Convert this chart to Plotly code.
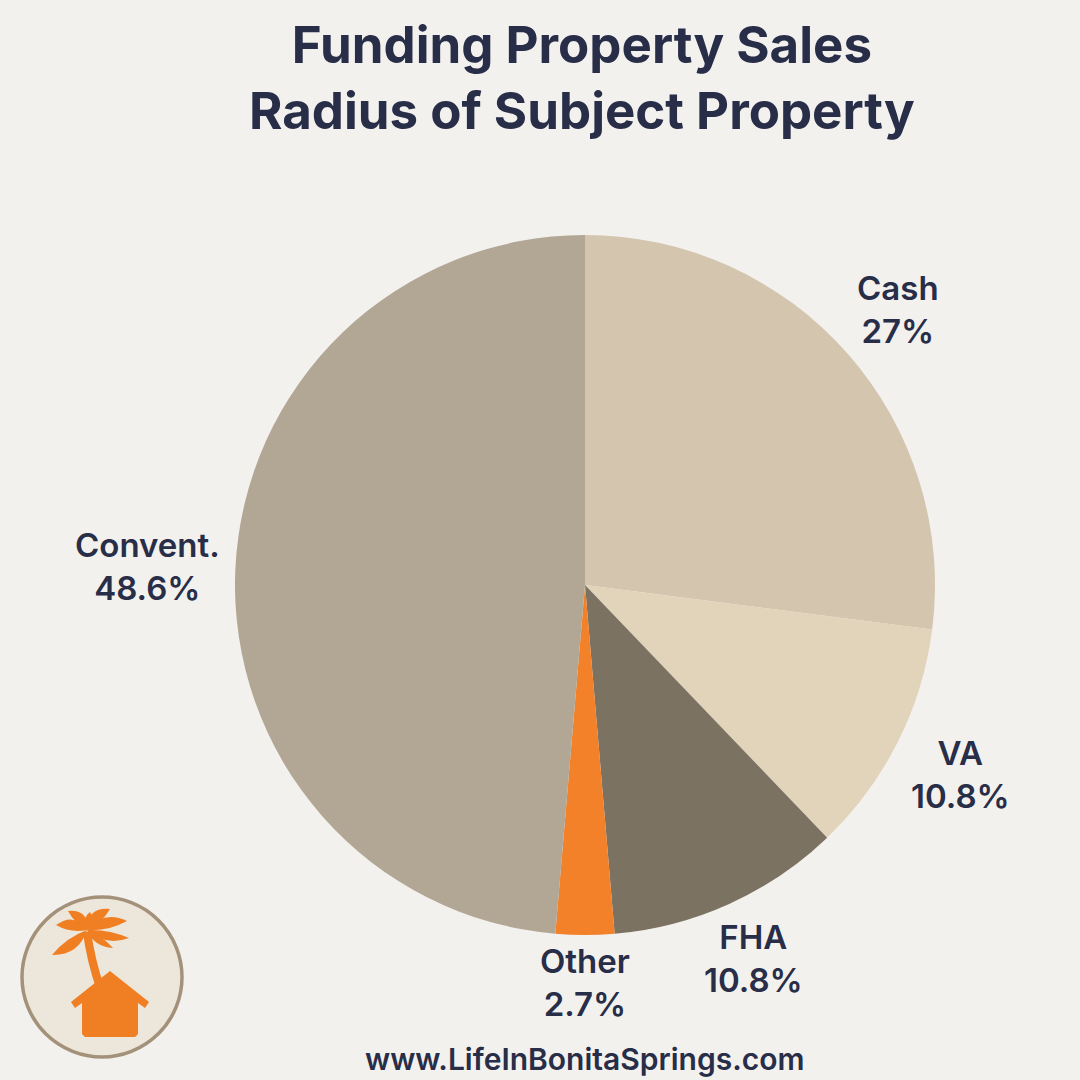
import math
import plotly.graph_objects as go

# ---- data ----
categories = ["Cash", "VA", "FHA", "Other", "Convent."]
values = [27, 10.8, 10.8, 2.7, 48.6]
value_labels = ["27%", "10.8%", "10.8%", "2.7%", "48.6%"]

# ---- style ----
colors = ["#D4C5AE", "#E2D4BA", "#7B7262", "#F2812A", "#B2A794"]
label_dist = [1.19, 1.20, 1.17, 1.135, 1.25]
TXT = "#282D48"
BG = "#F3F1EE"
W = H = 1080
CX, CY, R = 585, 585, 350  # pixels


def px(x, y):
    return x / W, 1 - y / H


fig = go.Figure()
fig.add_trace(go.Pie(
    labels=categories, values=values, sort=False, direction="clockwise",
    rotation=0, textinfo="none", hoverinfo="label+percent",
    marker=dict(colors=colors, line=dict(width=0)),
    domain=dict(x=[(CX - R) / W, (CX + R) / W], y=[1 - (CY + R) / H, 1 - (CY - R) / H]),
    showlegend=False,
))

# slice labels placed at mid-angle of each slice
total = sum(values)
cum = 0
annotations = []
for cat, v, lab, d in zip(categories, values, value_labels, label_dist):
    mid = (cum + v / 2) / total * 2 * math.pi
    cum += v
    x = CX + R * d * math.sin(mid)
    y = CY - R * d * math.cos(mid)
    xp, yp = px(x, y)
    annotations.append(dict(
        x=xp, y=yp, xref="paper", yref="paper", showarrow=False,
        text=f"{cat}<br>{lab}", align="center", xanchor="center", yanchor="middle",
        font=dict(family="Inter", size=33, color=TXT, weight=600),
    ))

# title
annotations.append(dict(
    x=582 / W, y=1 - 78 / H, xref="paper", yref="paper", showarrow=False,
    text="Funding Property Sales<br>Radius of Subject Property", align="center",
    xanchor="center", yanchor="middle",
    font=dict(family="Inter", size=51, color=TXT, weight=700),
))
# footer
annotations.append(dict(
    x=584 / W, y=1 - 1059 / H, xref="paper", yref="paper", showarrow=False,
    text="www.LifeInBonitaSprings.com", xanchor="center", yanchor="middle",
    font=dict(family="Inter", size=30, color=TXT, weight=600),
))

# ---- logo ----
shapes = []
x0, y0 = px(22, 897)
x1, y1 = px(182, 1057)
shapes.append(dict(type="circle", xref="paper", yref="paper", x0=x0, y0=y1, x1=x1, y1=y0,
                   fillcolor="#ECE6DB", line=dict(color="#A39279", width=3.5)))


def fmt(p):
    a, b = px(*p)
    return f"{a:.5f},{b:.5f}"


def path_from(points_cmds):
    out = []
    for cmd, pts in points_cmds:
        if cmd in ("L", "M"):
            for p in pts:
                out.append(f"{cmd}{fmt(p)}")
        else:  # Q: control point + end point
            out.append(f"{cmd}{fmt(pts[0])} {fmt(pts[1])}")
    return "".join(out) + "Z"


ORANGE = "#EF7F22"
# trunk
trunk = path_from([("M", [(83, 933)]), ("Q", [(87, 962), (96, 988)]),
                   ("L", [(104, 986)]), ("Q", [(95, 960), (91, 931)])])
shapes.append(dict(type="path", xref="paper", yref="paper", path=trunk,
                   fillcolor=ORANGE, line=dict(width=0)))


def leaf(c, t, w, bend):
    cx, cy = c
    tx, ty = t
    mx, my = (cx + tx) / 2, (cy + ty) / 2
    dx, dy = tx - cx, ty - cy
    L = math.hypot(dx, dy)
    nx, ny = -dy / L, dx / L
    mx += nx * bend
    my += ny * bend
    return path_from([("M", [c]), ("Q", [(mx + nx * w, my + ny * w), t]),
                      ("Q", [(mx - nx * w, my - ny * w), c])])


crown = (87, 930)
for tip, w, bend in [((52, 955), 11, -5), ((56, 925), 11, 5), ((68, 911), 10, 6),
                     ((90, 912), 8, 0),
                     ((110, 909), 11, -6), ((127, 921), 11, -5), ((129, 938), 9, 4),
                     ((113, 948), 7, 3)]:
    shapes.append(dict(type="path", xref="paper", yref="paper", path=leaf(crown, tip, w, bend),
                       fillcolor=ORANGE, line=dict(width=0)))

house = path_from([("M", [(110, 971)]),
                   ("L", [(149, 1002), (145, 1008), (138, 1003), (138, 1034),
                          (135, 1037), (85, 1037), (82, 1034), (82, 1003),
                          (75, 1008), (71, 1002)])])
shapes.append(dict(type="path", xref="paper", yref="paper", path=house,
                   fillcolor=ORANGE, line=dict(width=0)))

fig.update_layout(
    width=W, height=H, margin=dict(l=0, r=0, t=0, b=0),
    paper_bgcolor=BG, plot_bgcolor=BG,
    annotations=annotations, shapes=shapes,
)
fig.write_html("out.html")
